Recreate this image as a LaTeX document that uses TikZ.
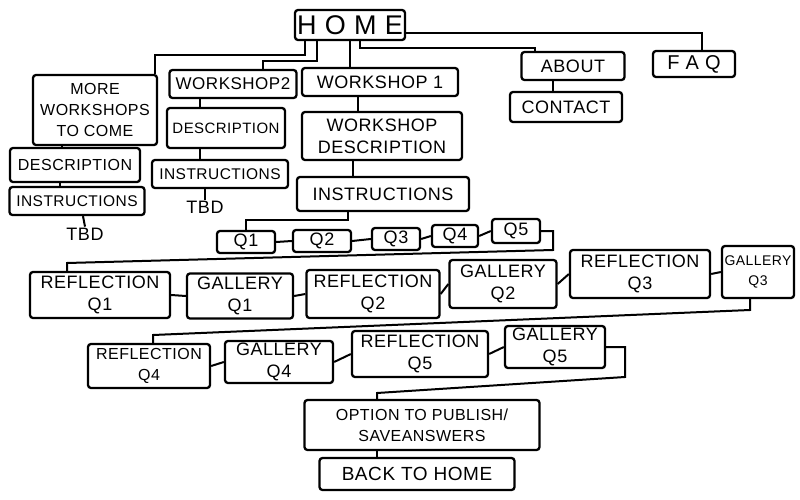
\documentclass[tikz,border=0pt]{standalone}
\usepackage{fontspec}
\setmainfont{Liberation Sans}[LetterSpace=3]
\begin{document}
\begin{tikzpicture}[x=1pt,y=-1pt,
  box/.style={draw=black,line width=2.3pt,rounded corners=3pt,inner sep=0pt,align=center,
    font=\fontsize{18}{22}\selectfont},
  plain/.style={inner sep=1pt,font=\fontsize{18}{20}\selectfont},
  link/.style={draw=black,line width=2pt}]
\useasboundingbox (0,0) rectangle (800,500);
% top level
\node[box,minimum width=110pt,minimum height=30pt,font=\fontsize{27}{30}\selectfont] (home) at (350,25) {H O M E};
\node[box,minimum width=124pt,minimum height=70pt,font=\fontsize{16}{21}\selectfont] (more) at (95,110) {MORE\\WORKSHOPS\\TO COME};
\node[box,minimum width=127pt,minimum height=28pt,font=\fontsize{17}{21}\selectfont] (ws2) at (233,84) {WORKSHOP2};
\node[box,minimum width=156pt,minimum height=28pt] (ws1) at (380,82) {WORKSHOP 1};
\node[box,minimum width=103pt,minimum height=28pt] (about) at (573,66) {ABOUT};
\node[box,minimum width=82pt,minimum height=26pt,font=\fontsize{20}{22}\selectfont] (faq) at (694,64) {F A Q};
\node[box,minimum width=112pt,minimum height=30pt] (contact) at (566,107) {CONTACT};
% more workshops column
\node[box,minimum width=130pt,minimum height=34pt,font=\fontsize{16}{21}\selectfont] (descl) at (75,165) {DESCRIPTION};
\node[box,minimum width=135pt,minimum height=28pt,font=\fontsize{15.5}{21}\selectfont] (instrl) at (77,201) {INSTRUCTIONS};
\node[plain] (tbdl) at (85,234) {TBD};
% workshop 2 column
\node[box,minimum width=118pt,minimum height=40pt,font=\fontsize{15}{21}\selectfont] (desc2) at (226,128) {DESCRIPTION};
\node[box,minimum width=136pt,minimum height=28pt,font=\fontsize{15.5}{21}\selectfont] (instr2) at (220,174) {INSTRUCTIONS};
\node[plain] (tbd2) at (205,207) {TBD};
% workshop 1 column
\node[box,minimum width=160pt,minimum height=48pt] (wsdesc) at (382,136) {WORKSHOP\\DESCRIPTION};
\node[box,minimum width=172pt,minimum height=34pt] (instr1) at (383,194) {INSTRUCTIONS};
% questions
\node[box,minimum width=58pt,minimum height=22pt] (q1) at (246,242) {Q1};
\node[box,minimum width=58pt,minimum height=22pt] (q2) at (322,241) {Q2};
\node[box,minimum width=48pt,minimum height=22pt] (q3) at (396,239) {Q3};
\node[box,minimum width=46pt,minimum height=22pt] (q4) at (455,236) {Q4};
\node[box,minimum width=48pt,minimum height=24pt] (q5) at (516,231) {Q5};
% reflections row 1
\node[box,minimum width=140pt,minimum height=46pt] (r1) at (100,295) {REFLECTION\\Q1};
\node[box,minimum width=106pt,minimum height=45pt] (g1) at (240,296) {GALLERY\\Q1};
\node[box,minimum width=133pt,minimum height=48pt] (r2) at (373,294) {REFLECTION\\Q2};
\node[box,minimum width=107pt,minimum height=48pt] (g2) at (503,284) {GALLERY\\Q2};
\node[box,minimum width=140pt,minimum height=48pt] (r3) at (640,274) {REFLECTION\\Q3};
\node[box,minimum width=72pt,minimum height=52pt,font=\fontsize{14}{20}\selectfont] (g3) at (758,272) {GALLERY\\Q3};
% row 2
\node[box,minimum width=122pt,minimum height=44pt,font=\fontsize{16}{21}\selectfont] (r4) at (149,366) {REFLECTION\\Q4};
\node[box,minimum width=108pt,minimum height=42pt] (g4) at (279,362) {GALLERY\\Q4};
\node[box,minimum width=136pt,minimum height=46pt] (r5) at (420,354) {REFLECTION\\Q5};
\node[box,minimum width=100pt,minimum height=42pt] (g5) at (555,347) {GALLERY\\Q5};
% end
\node[box,minimum width=235pt,minimum height=50pt,font=\fontsize{16}{21}\selectfont] (opt) at (422,425) {OPTION TO PUBLISH/\\SAVEANSWERS};
\node[box,minimum width=195pt,minimum height=32pt,font=\fontsize{19}{21}\selectfont] (back) at (417,474) {BACK TO HOME};
% coordinates for bends
\coordinate (qa) at (553,250);
\coordinate (qb) at (67,263);
\coordinate (ga) at (750,310);
\coordinate (gb) at (153,335);
\coordinate (oa) at (625,377);
\coordinate (ob) at (377,393);
% connectors from home
\draw[link] ([xshift=-45pt]home.south) -- ++(0,14) -| ([xshift=-3pt]more.north east);
\draw[link] ([xshift=-33pt]home.south) -- ++(0,20) -| ([xshift=30pt]ws2.north);
\draw[link] (home.south) -- (home.south |- ws1.north);
\draw[link] ([xshift=10pt]home.south) -- ++(0,7) -| ([xshift=-38pt]about.north);
\draw[link] ([yshift=-8pt]home.east) -| ([xshift=8pt]faq.north);
\draw[link] ([xshift=-20pt]about.south) -- ([xshift=-20pt]about.south |- contact.north);
% more workshops column
\draw[link] ([xshift=-33pt]more.south) -- ([xshift=-33pt]more.south |- descl.north);
\draw[link] ([xshift=-15pt]descl.south) -- ([xshift=-15pt]descl.south |- instrl.north);
\draw[link] ([xshift=6pt]instrl.south) -- (tbdl.north);
% workshop 2
\draw[link] ([xshift=-33pt]ws2.south) -- ([xshift=-33pt]ws2.south |- desc2.north);
\draw[link] ([xshift=-26pt]desc2.south) -- ([xshift=-26pt]desc2.south |- instr2.north);
\draw[link] ([xshift=-15pt]instr2.south) -- (tbd2.north);
% workshop 1
\draw[link] ([xshift=-22pt]ws1.south) -- ([xshift=-22pt]ws1.south |- wsdesc.north);
\draw[link] ([xshift=-29pt]wsdesc.south) -- ([xshift=-29pt]wsdesc.south |- instr1.north);
\draw[link] ([xshift=-35pt]instr1.south) -- ++(0,8) -| (q1.north);
% questions chain
\draw[link] (q1.east) -- (q2.west);
\draw[link] (q2.east) -- (q3.west);
\draw[link] (q3.east) -- (q4.west);
\draw[link] (q4.east) -- (q5.west);
\draw[link] (q5.east) -| (qa) -- (qb) -- (qb |- r1.north);
% row 1 chain
\draw[link] (r1.east) -- (g1.west);
\draw[link] (g1.east) -- (r2.west);
\draw[link] (r2.east) -- (g2.west);
\draw[link] (g2.east) -- (r3.west);
\draw[link] (r3.east) -- (g3.west);
\draw[link] (g3.south -| ga) -- (ga) -- (gb) -- (gb |- r4.north);
% row 2 chain
\draw[link] (r4.east) -- (g4.west);
\draw[link] (g4.east) -- (r5.west);
\draw[link] (r5.east) -- (g5.west);
\draw[link] (g5.east) -| (oa) -- (ob) -- (ob |- opt.north);
\draw[link] (opt.south -| ob) -- (ob |- back.north);
\end{tikzpicture}
\end{document}
